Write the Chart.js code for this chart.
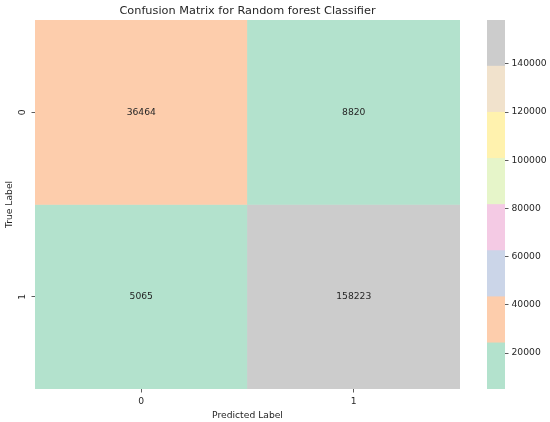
<!DOCTYPE html>
<html>
<head>
<meta charset="utf-8">
<script src="https://cdn.jsdelivr.net/npm/chart.js@4/dist/chart.umd.min.js"></script>
<style>
  html, body { margin: 0; padding: 0; background: #fff; }
  #wrap { position: relative; width: 550px; height: 422px; }
  #heatBox { position: absolute; left: 0; top: 0; width: 495px; height: 422px; }
  #barBox { position: absolute; left: 475px; top: 0; width: 75px; height: 422px; }
</style>
</head>
<body>
<div id="wrap">
  <div id="heatBox"><canvas id="heatmap"></canvas></div>
  <div id="barBox"><canvas id="colorbar"></canvas></div>
</div>
<script>
// confusion matrix data
const rowLabels = ['0', '1'];
const colLabels = ['0', '1'];
const row0Values = [36464, 8820];
const row1Values = [5065, 158223];
const cellValues = [row0Values, row1Values];

// Pastel2 colormap, 8 bins
const pastelColors = ['#b3e2cd', '#fdcdac', '#cbd5e8', '#f4cae4', '#e6f5c9', '#fff2ae', '#f1e2cc', '#cccccc'];
const colorbarTicks = [20000, 40000, 60000, 80000, 100000, 120000, 140000];

const allValues = cellValues.flat();
const vmin = Math.min(...allValues);
const vmax = Math.max(...allValues);
const binSize = (vmax - vmin) / pastelColors.length;

const textColor = '#262626';
const tickColor = '#333';
const fontFamily = '"DejaVu Sans", sans-serif';

function colorFor(v) {
    const idx = Math.min(pastelColors.length - 1, Math.floor((v - vmin) / binSize));
    return pastelColors[idx];
}

// Helper plugin: numbers in the cells + rotated y tick labels
const cellTextPlugin = {
    id: 'cellText',
    afterDatasetsDraw(chart) {
        const { ctx, scales } = chart;
        const x = scales.x, y = scales.y;
        ctx.save();
        ctx.fillStyle = textColor;
        ctx.font = '9.2px ' + fontFamily;
        ctx.textAlign = 'center';
        ctx.textBaseline = 'middle';
        cellValues.forEach((row, i) => {
            row.forEach((v, j) => {
                ctx.fillText(String(v), x.getPixelForValue(j), y.getPixelForValue(i + 0.5));
            });
        });
        // y tick labels, rotated like matplotlib
        rowLabels.forEach((lab, i) => {
            ctx.save();
            ctx.translate(23, y.getPixelForValue(i + 0.5));
            ctx.rotate(-Math.PI / 2);
            ctx.fillText(lab, 0, 0);
            ctx.restore();
        });
        ctx.restore();
    }
};

new Chart(document.getElementById('heatmap'), {
    type: 'bar',
    data: {
        labels: colLabels,
        datasets: cellValues.map((row, i) => ({
            data: row.map(() => [i, i + 1]),
            backgroundColor: row.map(colorFor),
            borderWidth: 0,
            barPercentage: 1,
            categoryPercentage: 1,
            grouped: false
        }))
    },
    options: {
        responsive: true,
        maintainAspectRatio: false,
        animation: false,
        layout: { padding: 0 },
        scales: {
            x: {
                type: 'category',
                offset: true,
                grid: { display: true, offset: false, drawOnChartArea: false, drawTicks: true, tickLength: 3.5, tickColor: tickColor, tickWidth: 0.8 },
                border: { display: false },
                ticks: { color: textColor, font: { family: fontFamily, size: 9.2 }, padding: 4 },
                title: { display: true, text: 'Predicted Label', color: textColor, font: { family: fontFamily, size: 9.2 }, padding: { top: 0, bottom: 1 } },
                afterFit: s => { s.height = 33; }
            },
            y: {
                type: 'linear',
                min: 0,
                max: 2,
                reverse: true,
                afterBuildTicks: s => { s.ticks = rowLabels.map((_, i) => ({ value: i + 0.5 })); },
                grid: { display: true, drawOnChartArea: false, drawTicks: true, tickLength: 3.5, tickColor: tickColor, tickWidth: 0.8 },
                border: { display: false },
                ticks: { display: false },
                title: { display: true, text: 'True Label', color: textColor, font: { family: fontFamily, size: 9.2 }, padding: { top: 3.8, bottom: 0 } },
                afterFit: s => { s.width = 35; }
            },
            // empty right margin so the title centres over the cells
            yRight: {
                type: 'linear',
                position: 'right',
                grid: { display: false },
                border: { display: false },
                ticks: { display: false },
                afterFit: s => { s.width = 35; }
            }
        },
        plugins: {
            legend: { display: false },
            tooltip: { enabled: false },
            title: {
                display: true,
                text: 'Confusion Matrix for Random forest Classifier',
                color: textColor,
                font: { family: fontFamily, size: 11.3, weight: 'normal' },
                padding: { top: 4, bottom: 2.4 }
            }
        }
    },
    plugins: [cellTextPlugin]
});

// colorbar
new Chart(document.getElementById('colorbar'), {
    type: 'bar',
    data: {
        labels: [''],
        datasets: pastelColors.map((c, k) => ({
            data: [[vmin + k * binSize, vmin + (k + 1) * binSize]],
            backgroundColor: c,
            borderWidth: 0,
            barPercentage: 1,
            categoryPercentage: 1,
            grouped: false
        }))
    },
    options: {
        responsive: true,
        maintainAspectRatio: false,
        animation: false,
        layout: { padding: { left: 12, right: 0, top: 20, bottom: 33 } },
        scales: {
            x: { display: false },
            y: {
                position: 'right',
                min: vmin,
                max: vmax,
                afterBuildTicks: s => { s.ticks = colorbarTicks.map(v => ({ value: v })); },
                grid: { display: true, drawOnChartArea: false, drawTicks: true, tickLength: 3.5, tickColor: tickColor, tickWidth: 0.8 },
                border: { display: false },
                ticks: { color: textColor, font: { family: fontFamily, size: 9.2 }, padding: 3, callback: v => String(v) },
                afterFit: s => { s.width = 45; }
            }
        },
        plugins: {
            legend: { display: false },
            tooltip: { enabled: false }
        }
    }
});
</script>
</body>
</html>
